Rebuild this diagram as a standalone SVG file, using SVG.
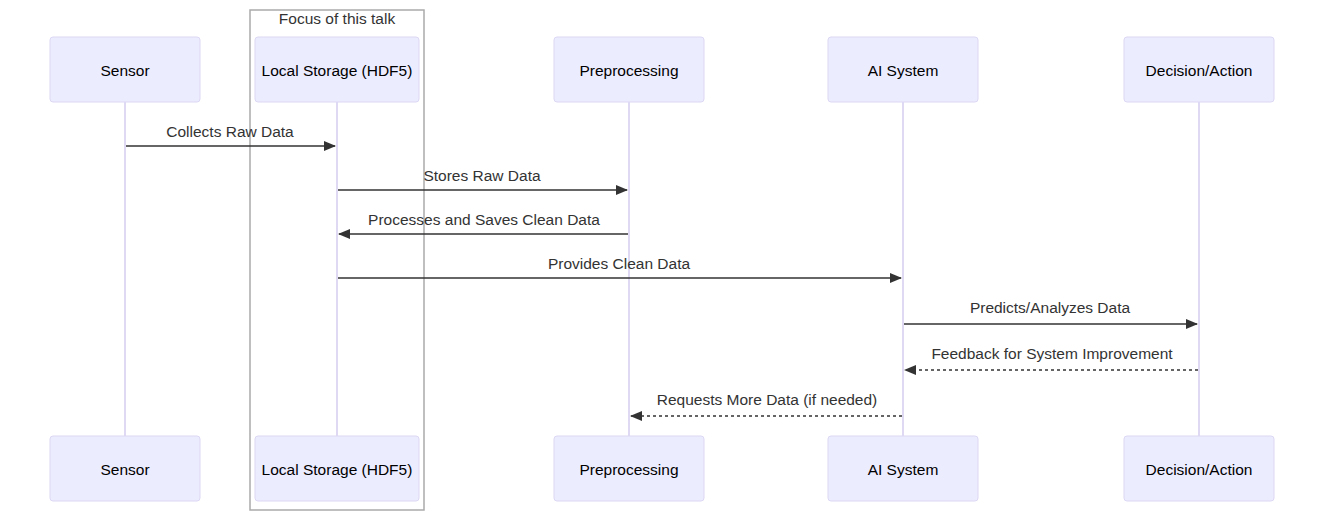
<svg xmlns="http://www.w3.org/2000/svg" width="1324" height="522" viewBox="0 0 1324 522">
<style>
.actor{fill:#ECECFF;stroke:#dcd7f3;stroke-width:1}
.atext{font-family:"Liberation Sans",Arial,sans-serif;font-size:15.5px;fill:#000;text-anchor:middle;dominant-baseline:central}
.life{stroke:#d4cdef;stroke-width:1.5}
.msg{stroke:#333;stroke-width:1.5;fill:none}
.dash{stroke-dasharray:3,3}
.mtext{font-family:"Liberation Sans",Arial,sans-serif;font-size:15.5px;fill:#333;text-anchor:middle}
</style>
<defs>
<marker id="ah" viewBox="0 0 12 10" refX="11" refY="5" markerWidth="12" markerHeight="10" markerUnits="userSpaceOnUse" orient="auto">
<path d="M0,0 L12,5 L0,10 z" fill="#333"/>
</marker>
</defs>
<rect width="1324" height="522" fill="#fff"/>
<g id="group-focus">
<rect x="250" y="10" width="174" height="500" fill="none" stroke="#aaa" stroke-width="1.5"/>
<text x="337" y="24" class="mtext">Focus of this talk</text>
</g>
<g id="lifelines">
<line class="life" x1="125" y1="102" x2="125" y2="436"/>
<line class="life" x1="337" y1="102" x2="337" y2="436"/>
<line class="life" x1="629" y1="102" x2="629" y2="436"/>
<line class="life" x1="903" y1="102" x2="903" y2="436"/>
<line class="life" x1="1199" y1="102" x2="1199" y2="436"/>
</g>
<g id="sensor">
<rect class="actor" x="50" y="37" width="150" height="65" rx="3"/><text class="atext" x="125" y="70">Sensor</text>
<rect class="actor" x="50" y="436" width="150" height="65" rx="3"/><text class="atext" x="125" y="469">Sensor</text>
</g>
<g id="storage">
<rect class="actor" x="255" y="37" width="164" height="65" rx="3"/><text class="atext" x="337" y="70">Local Storage (HDF5)</text>
<rect class="actor" x="255" y="436" width="164" height="65" rx="3"/><text class="atext" x="337" y="469">Local Storage (HDF5)</text>
</g>
<g id="preprocessing">
<rect class="actor" x="554" y="37" width="150" height="65" rx="3"/><text class="atext" x="629" y="70">Preprocessing</text>
<rect class="actor" x="554" y="436" width="150" height="65" rx="3"/><text class="atext" x="629" y="469">Preprocessing</text>
</g>
<g id="ai">
<rect class="actor" x="828" y="37" width="150" height="65" rx="3"/><text class="atext" x="903" y="70">AI System</text>
<rect class="actor" x="828" y="436" width="150" height="65" rx="3"/><text class="atext" x="903" y="469">AI System</text>
</g>
<g id="decision">
<rect class="actor" x="1124" y="37" width="150" height="65" rx="3"/><text class="atext" x="1199" y="70">Decision/Action</text>
<rect class="actor" x="1124" y="436" width="150" height="65" rx="3"/><text class="atext" x="1199" y="469">Decision/Action</text>
</g>
<g id="connectors">
<text class="mtext" x="230" y="137">Collects Raw Data</text>
<line class="msg" x1="126" y1="146" x2="335" y2="146" marker-end="url(#ah)"/>
<text class="mtext" x="482" y="181">Stores Raw Data</text>
<line class="msg" x1="338" y1="190" x2="627" y2="190" marker-end="url(#ah)"/>
<text class="mtext" x="484" y="225">Processes and Saves Clean Data</text>
<line class="msg" x1="628" y1="234" x2="339" y2="234" marker-end="url(#ah)"/>
<text class="mtext" x="619" y="269">Provides Clean Data</text>
<line class="msg" x1="338" y1="278" x2="901" y2="278" marker-end="url(#ah)"/>
<text class="mtext" x="1050" y="313">Predicts/Analyzes Data</text>
<line class="msg" x1="904" y1="324" x2="1197" y2="324" marker-end="url(#ah)"/>
<text class="mtext" x="1052" y="359">Feedback for System Improvement</text>
<line class="msg dash" x1="1198" y1="370" x2="905" y2="370" marker-end="url(#ah)"/>
<text class="mtext" x="767" y="405">Requests More Data (if needed)</text>
<line class="msg dash" x1="902" y1="416" x2="631" y2="416" marker-end="url(#ah)"/>
</g>
</svg>
